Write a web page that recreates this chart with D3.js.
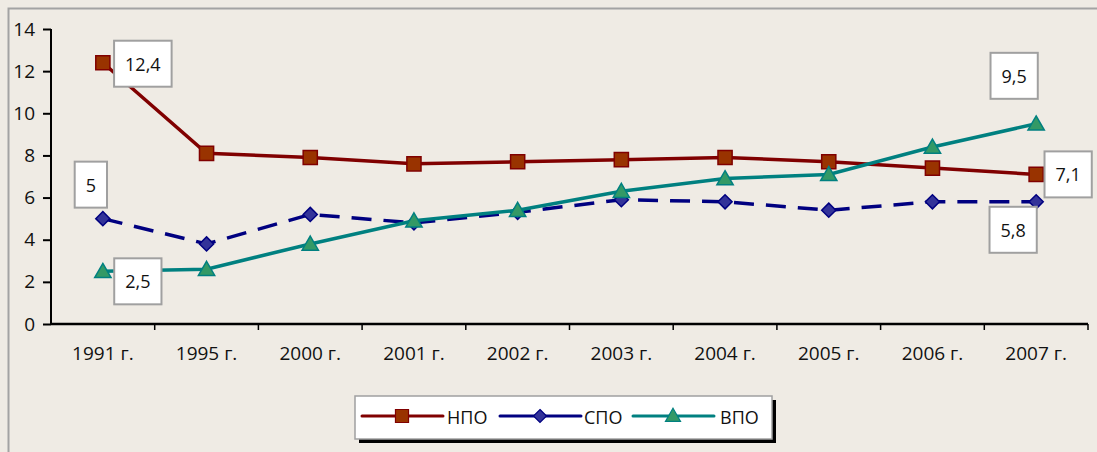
<!DOCTYPE html>
<html>
<head>
<meta charset="utf-8">
<script src="https://cdn.jsdelivr.net/npm/d3@7"></script>
<style>
  body { margin: 0; background: #efebe4; }
  svg { display: block; font-family: "Open Sans", "Noto Sans", sans-serif; }
  .val { font-size: 18px; fill: #111; }
  .leg { font-size: 18px; fill: #111; }
</style>
</head>
<body>
<svg width="1097" height="452"></svg>
<script>
const years = ['1991 г.', '1995 г.', '2000 г.', '2001 г.', '2002 г.', '2003 г.', '2004 г.', '2005 г.', '2006 г.', '2007 г.'];
const npo = [12.4, 8.1, 7.9, 7.6, 7.7, 7.8, 7.9, 7.7, 7.4, 7.1];
const spo = [5.0, 3.8, 5.2, 4.8, 5.3, 5.9, 5.8, 5.4, 5.8, 5.8];
const vpo = [2.5, 2.6, 3.8, 4.9, 5.4, 6.3, 6.9, 7.1, 8.4, 9.5];
const yTicks = [0, 2, 4, 6, 8, 10, 12, 14];

// value labels: which series and which year
const labels = [
    { series: 'НПО', year: '1991 г.', text: '12,4' },
    { series: 'СПО', year: '1991 г.', text: '5' },
    { series: 'ВПО', year: '1991 г.', text: '2,5' },
    { series: 'ВПО', year: '2007 г.', text: '9,5' },
    { series: 'НПО', year: '2007 г.', text: '7,1' },
    { series: 'СПО', year: '2007 г.', text: '5,8' }
];

const svg = d3.select('svg');
const width = +svg.attr('width');
const height = +svg.attr('height');

svg.append('rect')
    .attr('x', 8.5).attr('y', 8.5)
    .attr('width', width + 10).attr('height', height + 10)
    .attr('fill', '#efebe4')
    .attr('stroke', '#a3a3a3')
    .attr('stroke-width', 2);

// diamond as a rotated square
const diamond = {
    draw(ctx, size) {
        const r = Math.sqrt(size) / Math.SQRT2;
        ctx.moveTo(0, -r); ctx.lineTo(r, 0); ctx.lineTo(0, r); ctx.lineTo(-r, 0); ctx.closePath();
    }
};

const series = [
    { name: 'НПО', values: npo, line: '#800000', fill: '#993300', dash: null, shape: d3.symbolSquare, size: 200 },
    { name: 'СПО', values: spo, line: '#000080', fill: '#333399', dash: '20,12', shape: diamond, size: 100 },
    { name: 'ВПО', values: vpo, line: '#008080', fill: '#339966', dash: null, shape: d3.symbolTriangle, size: 115 }
];

const xScale = d3.scaleBand().domain(years).range([51, 1088]);
const xPos = d => xScale(d) + xScale.bandwidth() / 2;
const yScale = d3.scaleLinear().domain([0, 14]).range([324, 29]);

const tickFont = sel => sel.selectAll('text')
    .style('font-size', '19px')
    .style('font-family', '"Open Sans", sans-serif')
    .attr('fill', '#111');

// y axis
const yAxisG = svg.append('g')
    .attr('transform', 'translate(51,0)')
    .call(d3.axisLeft(yScale).tickValues(yTicks).tickSize(8).tickPadding(8));
yAxisG.selectAll('line, .domain').attr('stroke', '#000').attr('stroke-width', 2);
yAxisG.select('.domain').attr('d', `M0,${yScale(14)}V${yScale(0)}`);
tickFont(yAxisG);

// x axis
const xAxisG = svg.append('g')
    .attr('transform', `translate(0,${yScale(0)})`)
    .call(d3.axisBottom(xScale).tickSize(0).tickPadding(23));
xAxisG.select('.domain').attr('d', `M51,0H1088`).attr('stroke', '#000').attr('stroke-width', 2.5);
tickFont(xAxisG);
xAxisG.selectAll('.bound').data(years)
    .enter().append('line')
    .attr('x1', (d, i) => 51 + (i + 1) * xScale.bandwidth())
    .attr('x2', (d, i) => 51 + (i + 1) * xScale.bandwidth())
    .attr('y1', 0).attr('y2', 6)
    .attr('stroke', '#000').attr('stroke-width', 1.5);

const lineGenerator = d3.line()
    .x((d, i) => xPos(years[i]))
    .y(d => yScale(d));

const order = [series[1], series[0], series[2]];
order.forEach(s => {
    svg.append('path')
        .attr('d', lineGenerator(s.values))
        .attr('fill', 'none')
        .attr('stroke', s.line)
        .attr('stroke-width', 3.5)
        .attr('stroke-dasharray', s.dash);
    svg.selectAll(null).data(s.values)
        .enter().append('path')
        .attr('transform', (d, i) => `translate(${xPos(years[i])},${yScale(d) + (s.shape === d3.symbolTriangle ? 1.5 : 0)})`)
        .attr('d', d3.symbol().type(s.shape).size(s.size))
        .attr('fill', s.fill)
        .attr('stroke', s.line)
        .attr('stroke-width', 1.5);
});

// value label boxes
const offsets = {
    'НПО|1991 г.': [40, 1], 'СПО|1991 г.': [-12, -34], 'ВПО|1991 г.': [35, 10],
    'ВПО|2007 г.': [-22, -48], 'НПО|2007 г.': [32, 0], 'СПО|2007 г.': [-23, 28]
};
labels.forEach(l => {
    const s = series.find(s => s.name === l.series);
    const i = years.indexOf(l.year);
    const off = offsets[l.series + '|' + l.year];
    const cx = xPos(l.year) + off[0];
    const cy = yScale(s.values[i]) + off[1];
    const g = svg.append('g');
    const rect = g.append('rect');
    const t = g.append('text').attr('class', 'val')
        .attr('x', cx).attr('y', cy)
        .attr('text-anchor', 'middle')
        .attr('dominant-baseline', 'central')
        .text(l.text);
    const w = t.node().getComputedTextLength() + 22;
    rect.attr('x', cx - w / 2).attr('y', cy - 23)
        .attr('width', w).attr('height', 46)
        .attr('fill', '#fff').attr('stroke', '#a0a0a0').attr('stroke-width', 2);
});

// legend
const leg = svg.append('g');
leg.append('rect').attr('x', 359).attr('y', 400).attr('width', 417).attr('height', 43).attr('fill', '#000');
leg.append('rect').attr('x', 355).attr('y', 396).attr('width', 417).attr('height', 43)
    .attr('fill', '#fff').attr('stroke', '#a0a0a0').attr('stroke-width', 1.5);
const legX = [362, 500, 633];
const legTextX = [447, 584, 720];
series.forEach((s, i) => {
    leg.append('line')
        .attr('x1', legX[i]).attr('x2', legX[i] + 81)
        .attr('y1', 416).attr('y2', 416)
        .attr('stroke', s.line).attr('stroke-width', 3).attr('stroke-linecap', 'round');
    leg.append('path')
        .attr('transform', `translate(${legX[i] + 40},${416 + (s.shape === d3.symbolTriangle ? 1 : 0)})`)
        .attr('d', d3.symbol().type(s.shape).size(s.size * 0.85))
        .attr('fill', s.fill).attr('stroke', s.line).attr('stroke-width', 1.2);
    leg.append('text').attr('class', 'leg')
        .attr('x', legTextX[i]).attr('y', 417)
        .attr('dominant-baseline', 'central')
        .text(s.name);
});
</script>
</body>
</html>
